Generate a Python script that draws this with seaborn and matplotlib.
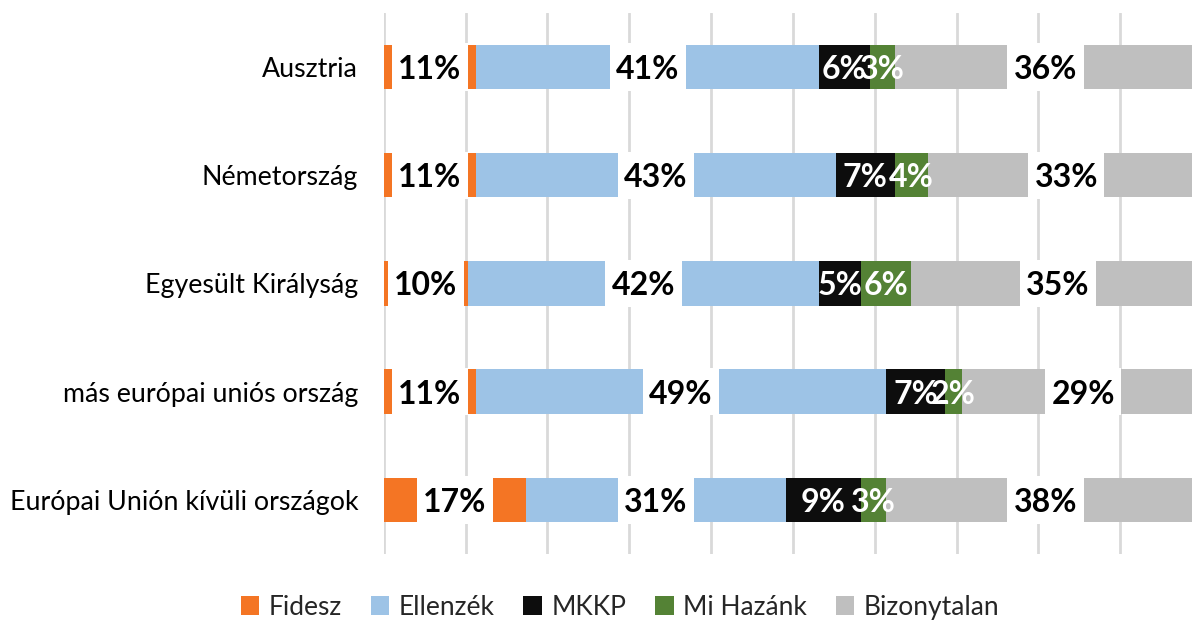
import numpy as np
import pandas as pd
import matplotlib
matplotlib.use("Agg")
import matplotlib.pyplot as plt
import seaborn as sns
from matplotlib.patches import Patch

# --- Adatok ---
ORSZAGOK = ["Ausztria", "Németország", "Egyesült Királyság",
            "más európai uniós ország", "Európai Unión kívüli országok"]
PARTOK = ["Fidesz", "Ellenzék", "MKKP", "Mi Hazánk", "Bizonytalan"]
FIDESZ = [11, 11, 10, 11, 17]
ELLENZEK = [41, 43, 42, 49, 31]
MKKP = [6, 7, 5, 7, 9]
MI_HAZANK = [3, 4, 6, 2, 3]
BIZONYTALAN = [36, 33, 35, 29, 38]

SZINEK = ["#F47524", "#9DC3E6", "#0D0D0D", "#548235", "#BFBFBF"]
FEHER_CIMKE = {"MKKP", "Mi Hazánk"}

sns.set_theme(style="white")
plt.rcParams["font.family"] = ["Lato", "DejaVu Sans"]

df = pd.DataFrame({"orszag": ORSZAGOK, "Fidesz": FIDESZ, "Ellenzék": ELLENZEK,
                   "MKKP": MKKP, "Mi Hazánk": MI_HAZANK, "Bizonytalan": BIZONYTALAN})
cum = df[PARTOK].cumsum(axis=1)

fig = plt.figure(figsize=(11.92, 6.21), dpi=100)
ax = fig.add_axes([0.322, 0.108, 0.678, 0.871])

BAR_H = 0.41
# halmozott oszlopok: a leghosszabbtól visszafelé rajzolva
for part, szin in reversed(list(zip(PARTOK, SZINEK))):
    sns.barplot(x=cum[part], y=df["orszag"], color=szin, width=BAR_H,
                orient="h", ax=ax, zorder=2, linewidth=0, saturation=1)

# címkék
DOBOZ = 9.1
for i, orszag in enumerate(ORSZAGOK):
    for j, part in enumerate(PARTOK):
        ertek = df.loc[i, part]
        kezdet = cum.loc[i, part] - ertek
        kozep = kezdet + ertek / 2
        if part in FEHER_CIMKE:
            ax.text(kozep, i, f"{ertek}%", ha="center", va="center_baseline",
                    color="white", fontsize=23, fontweight="bold", zorder=5)
        else:
            ax.barh(i, DOBOZ, left=kozep - DOBOZ / 2, height=BAR_H + 0.03,
                    color="white", zorder=3, linewidth=0)
            ax.text(kozep, i, f"{ertek}%", ha="center", va="center_baseline",
                    color="black", fontsize=23, fontweight="bold", zorder=5)

ax.set_xlim(0, 96.5)
ax.set_ylim(len(ORSZAGOK) - 0.5, -0.5)
ax.set_xticks(np.arange(0, 96.5, 9.77))
ax.set_xticklabels([])
ax.grid(axis="x", color="#D9D9D9", linewidth=2)
ax.grid(axis="y", visible=False)
ax.set_axisbelow(True)
for s in ax.spines.values():
    s.set_visible(False)
ax.set_xlabel("")
ax.set_ylabel("")
ax.tick_params(axis="y", length=0, pad=18.5, labelsize=19.3, labelcolor="black")
ax.tick_params(axis="x", length=0)

handles = [Patch(facecolor=c, edgecolor="none", label=p) for p, c in zip(PARTOK, SZINEK)]
fig.legend(handles=handles, loc="lower center", bbox_to_anchor=(0.52, -0.036), ncol=5,
           frameon=False, fontsize=19, handlelength=0.7, handleheight=0.7,
           handletextpad=0.35, columnspacing=1.1)

fig.savefig("out.png", dpi=100)
